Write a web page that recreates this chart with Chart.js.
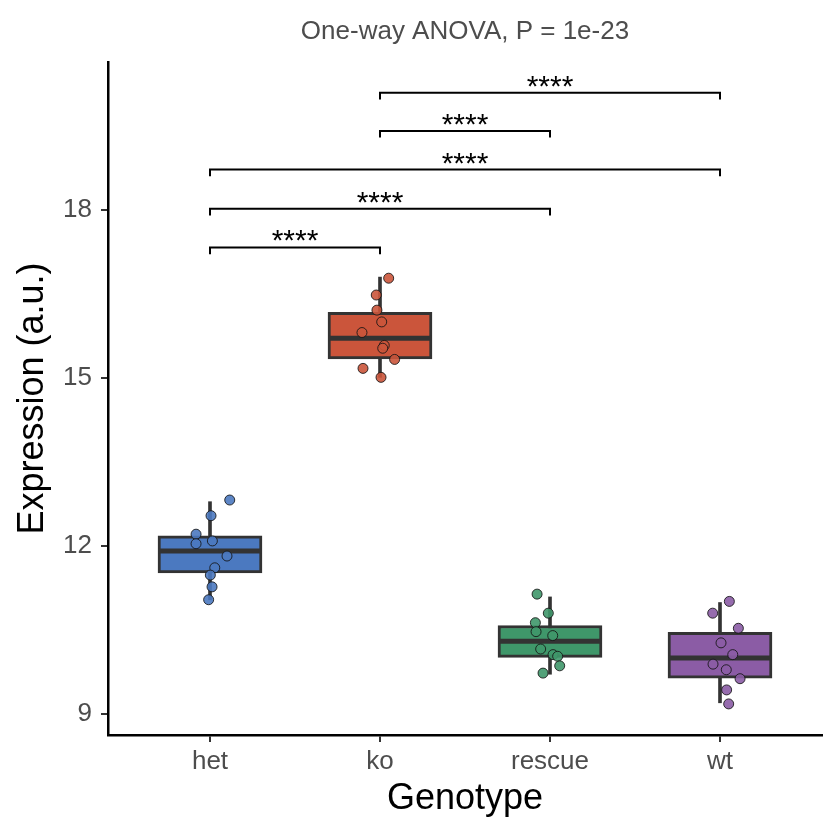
<!DOCTYPE html>
<html>
<head>
<meta charset="utf-8">
<script src="https://cdn.jsdelivr.net/npm/chart.js@4.4.1/dist/chart.umd.min.js"></script>
<style>
	html, body { margin: 0; padding: 0; background: #fff; }
</style>
</head>
<body>
<canvas id="chart" width="840" height="840"></canvas>
<script>
"use strict";

// groups on the x axis
var genotypes = ['het', 'ko', 'rescue', 'wt'];

// box statistics
var whiskerLow  = [11.04, 15.01, 9.71, 9.20];
var quartile1   = [11.52, 15.34, 10.01, 9.64];
var medians     = [11.91, 15.71, 10.30, 10.00];
var quartile3   = [12.18, 16.17, 10.58, 10.46];
var whiskerHigh = [12.79, 16.80, 11.09, 10.99];

// jittered points (x in group units, y in expression)
var hetX = [1.116, 1.006, 0.918, 0.918, 1.014, 1.100, 1.028, 1.002, 1.012, 0.992];
var hetY = [12.82, 12.54, 12.21, 12.04, 12.09, 11.82, 11.61, 11.48, 11.27, 11.04];
var koX = [2.051, 1.978, 1.982, 2.010, 1.894, 2.025, 2.016, 2.086, 1.900, 2.006];
var koY = [16.78, 16.48, 16.21, 16.00, 15.81, 15.58, 15.53, 15.33, 15.17, 15.01];
var rescueX = [2.924, 2.990, 2.914, 2.918, 3.016, 2.945, 3.018, 3.045, 3.057, 2.959];
var rescueY = [11.14, 10.80, 10.63, 10.47, 10.40, 10.16, 10.06, 10.03, 9.86, 9.73];
var wtX = [4.055, 3.957, 4.108, 4.006, 4.075, 3.959, 4.037, 4.118, 4.039, 4.051];
var wtY = [11.01, 10.80, 10.53, 10.27, 10.06, 9.89, 9.79, 9.63, 9.43, 9.18];

// significance brackets
var bracketFrom  = [2, 2, 1, 1, 1];
var bracketTo    = [4, 3, 4, 3, 2];
var bracketY     = [20.09, 19.41, 18.72, 18.02, 17.33];
var bracketLabel = ['****', '****', '****', '****', '****'];

var yTicks = [9, 12, 15, 18];
var titleText = 'One-way ANOVA, P = 1e-23';

var fillColors  = ['#4b79c0', '#cb553b', '#3f976a', '#8b5ca5'];
var pointColors = ['rgba(75,121,192,0.9)', 'rgba(203,85,59,0.9)', 'rgba(63,151,106,0.9)', 'rgba(139,92,165,0.9)'];
var FONT = '"Liberation Sans", Arial, Helvetica, sans-serif';

function toPoints(xs, ys) {
	var out = [];
	for (var i = 0; i < xs.length; i++) {
		out.push({x: xs[i], y: ys[i]});
	}
	return out;
}

var boxData = [], whiskerData = [];
for (var i = 0; i < genotypes.length; i++) {
	boxData.push({x: i + 1, y: [quartile1[i], quartile3[i]]});
	whiskerData.push({x: i + 1, y: [whiskerLow[i], whiskerHigh[i]]});
}

var pointSets = [[hetX, hetY], [koX, koY], [rescueX, rescueY], [wtX, wtY]];

var datasets = [{
	type: 'bar',
	data: whiskerData,
	backgroundColor: '#333333',
	barThickness: 3,
	grouped: false,
	order: 3
}, {
	type: 'bar',
	data: boxData,
	backgroundColor: fillColors,
	borderColor: '#333333',
	borderWidth: 3,
	borderSkipped: false,
	barThickness: 104,
	grouped: false,
	order: 2
}];

for (var g = 0; g < pointSets.length; g++) {
	datasets.push({
		type: 'scatter',
		data: toPoints(pointSets[g][0], pointSets[g][1]),
		backgroundColor: pointColors[g],
		borderColor: 'rgba(20,20,20,0.85)',
		borderWidth: 1,
		pointRadius: 5,
		order: 1
	});
}

var boxExtras = {
	id: 'boxExtras',
	afterDatasetDraw: function (chart, args) {
		if (args.index !== 1) return;
		var ctx = chart.ctx;
		var xs = chart.scales.x, ys = chart.scales.y;
		var bars = args.meta.data;
		ctx.save();
		ctx.strokeStyle = '#333333';
		ctx.lineWidth = 5;
		for (var i = 0; i < medians.length; i++) {
			var cx = xs.getPixelForValue(i + 1);
			var hw = bars[i].width / 2;
			var my = ys.getPixelForValue(medians[i]);
			ctx.beginPath();
			ctx.moveTo(cx - hw, my);
			ctx.lineTo(cx + hw, my);
			ctx.stroke();
		}
		ctx.restore();
	},
	afterDraw: function (chart) {
		var ctx = chart.ctx;
		var xs = chart.scales.x, ys = chart.scales.y;
		var area = chart.chartArea;
		ctx.save();
		ctx.strokeStyle = '#000';
		ctx.fillStyle = '#000';
		ctx.lineWidth = 2;
		ctx.font = '30px ' + FONT;
		ctx.textAlign = 'center';
		ctx.textBaseline = 'alphabetic';
		for (var b = 0; b < bracketY.length; b++) {
			var x1 = xs.getPixelForValue(bracketFrom[b]);
			var x2 = xs.getPixelForValue(bracketTo[b]);
			var by = ys.getPixelForValue(bracketY[b]);
			var tip = ys.getPixelForValue(bracketY[b] - 0.12);
			ctx.beginPath();
			ctx.moveTo(x1, tip);
			ctx.lineTo(x1, by);
			ctx.lineTo(x2, by);
			ctx.lineTo(x2, tip);
			ctx.stroke();
			ctx.fillText(bracketLabel[b], (x1 + x2) / 2, by + 3);
		}
		ctx.fillStyle = '#4d4d4d';
		ctx.font = '26px ' + FONT;
		ctx.fillText(titleText, (area.left + area.right) / 2, 38.5);
		ctx.restore();
	}
};

var chart = new Chart(document.getElementById('chart'), {
	type: 'bar',
	data: {datasets: datasets},
	plugins: [boxExtras],
	options: {
		responsive: false,
		animation: false,
		layout: {padding: {left: 0, top: 62, right: 18, bottom: 0}},
		plugins: {
			legend: {display: false},
			tooltip: {enabled: false}
		},
		scales: {
			x: {
				type: 'linear',
				min: 0.4,
				max: 4.6,
				offset: false,
				afterFit: function (s) { s.height = 105; },
				afterBuildTicks: function (s) {
					s.ticks = genotypes.map(function (n, i) { return {value: i + 1}; });
				},
				grid: {display: true, drawOnChartArea: false, drawTicks: true, tickLength: 7, color: '#333333', lineWidth: 2, offset: false},
				border: {display: true, color: '#000', width: 2.5},
				ticks: {
					color: '#4d4d4d',
					font: {family: FONT, size: 26},
					padding: 4,
					maxRotation: 0,
					callback: function (value, index) { return genotypes[index]; }
				},
				title: {
					display: true,
					text: 'Genotype',
					color: '#000',
					font: {family: FONT, size: 36},
					padding: {top: 0, bottom: 19}
				}
			},
			y: {
				type: 'linear',
				min: 8.625,
				max: 20.64,
				afterFit: function (s) { s.width = 108; },
				afterBuildTicks: function (s) {
					s.ticks = yTicks.map(function (v) { return {value: v}; });
				},
				grid: {display: true, drawOnChartArea: false, drawTicks: true, tickLength: 7, color: '#333333', lineWidth: 2},
				border: {display: true, color: '#000', width: 2.5},
				ticks: {
					color: '#4d4d4d',
					font: {family: FONT, size: 26},
					padding: 9
				},
				title: {
					display: true,
					text: 'Expression (a.u.)',
					color: '#000',
					font: {family: FONT, size: 36},
					padding: {top: 11, bottom: 0}
				}
			}
		}
	}
});
</script>
</body>
</html>
